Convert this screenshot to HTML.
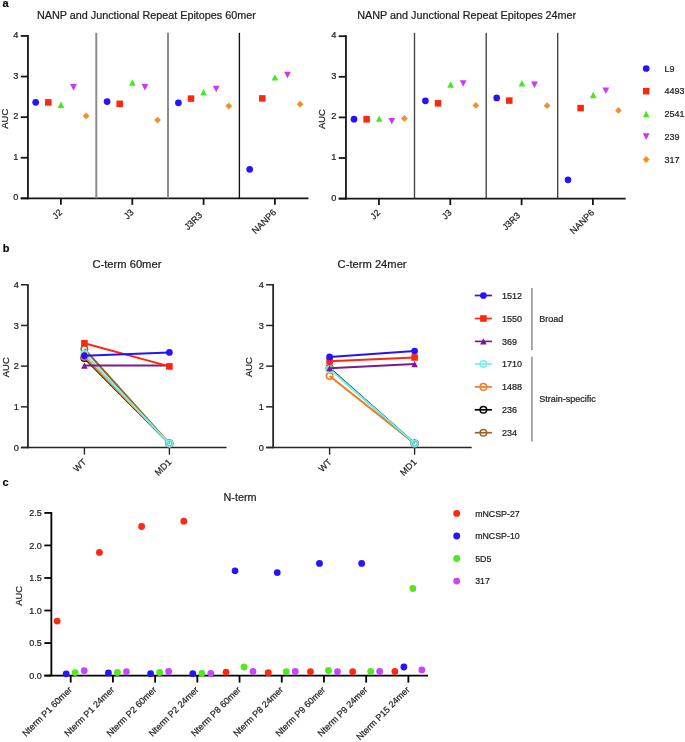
<!DOCTYPE html>
<html><head><meta charset="utf-8"><style>
html,body{margin:0;padding:0;background:#fff;}
svg{display:block;}
.t{filter:grayscale(1);}
.t text{stroke:#222;stroke-width:0.22px;}
text{font-family:"Liberation Sans", sans-serif;}
</style></head><body>
<svg width="685" height="742" viewBox="0 0 685 742">
<rect width="685" height="742" fill="#fff"/>
<line x1="27.95" y1="35.05" x2="27.95" y2="199.25" stroke="#151515" stroke-width="1.8"/>
<line x1="20.75" y1="198.35" x2="27.95" y2="198.35" stroke="#151515" stroke-width="1.8"/>
<line x1="20.75" y1="157.75" x2="27.95" y2="157.75" stroke="#151515" stroke-width="1.8"/>
<line x1="20.75" y1="117.15" x2="27.95" y2="117.15" stroke="#151515" stroke-width="1.8"/>
<line x1="20.75" y1="76.55" x2="27.95" y2="76.55" stroke="#151515" stroke-width="1.8"/>
<line x1="20.75" y1="35.95" x2="27.95" y2="35.95" stroke="#151515" stroke-width="1.8"/>
<line x1="20.75" y1="198.35" x2="308.50" y2="198.35" stroke="#151515" stroke-width="1.8"/>
<line x1="60.90" y1="198.35" x2="60.90" y2="204.85" stroke="#151515" stroke-width="1.8"/>
<line x1="132.30" y1="198.35" x2="132.30" y2="204.85" stroke="#151515" stroke-width="1.8"/>
<line x1="203.60" y1="198.35" x2="203.60" y2="204.85" stroke="#151515" stroke-width="1.8"/>
<line x1="274.90" y1="198.35" x2="274.90" y2="204.85" stroke="#151515" stroke-width="1.8"/>
<line x1="96.30" y1="32.80" x2="96.30" y2="198.35" stroke="#8c8c8c" stroke-width="2.0"/>
<line x1="168.00" y1="32.80" x2="168.00" y2="198.35" stroke="#8c8c8c" stroke-width="2.0"/>
<line x1="239.40" y1="32.80" x2="239.40" y2="198.35" stroke="#111" stroke-width="1.35"/>
<circle cx="35.70" cy="102.30" r="3.35" fill="rgb(38,18,252)"/>
<rect x="45.05" y="99.15" width="6.5" height="6.5" fill="rgb(255,38,14)"/>
<polygon points="60.90,101.50 64.20,107.90 57.60,107.90" fill="rgb(72,232,30)"/>
<polygon points="73.50,90.70 76.90,84.10 70.10,84.10" fill="rgb(200,58,250)"/>
<polygon points="86.10,112.50 89.50,115.90 86.10,119.30 82.70,115.90" fill="rgb(240,145,38)"/>
<circle cx="107.10" cy="101.60" r="3.35" fill="rgb(38,18,252)"/>
<rect x="116.45" y="100.55" width="6.5" height="6.5" fill="rgb(255,38,14)"/>
<polygon points="132.30,79.30 135.60,85.70 129.00,85.70" fill="rgb(72,232,30)"/>
<polygon points="144.90,90.60 148.30,84.00 141.50,84.00" fill="rgb(200,58,250)"/>
<polygon points="157.50,116.70 160.90,120.10 157.50,123.50 154.10,120.10" fill="rgb(240,145,38)"/>
<circle cx="178.40" cy="102.80" r="3.35" fill="rgb(38,18,252)"/>
<rect x="187.75" y="95.35" width="6.5" height="6.5" fill="rgb(255,38,14)"/>
<polygon points="203.60,89.00 206.90,95.40 200.30,95.40" fill="rgb(72,232,30)"/>
<polygon points="216.20,92.30 219.60,85.70 212.80,85.70" fill="rgb(200,58,250)"/>
<polygon points="228.80,102.60 232.20,106.00 228.80,109.40 225.40,106.00" fill="rgb(240,145,38)"/>
<circle cx="249.70" cy="169.30" r="3.35" fill="rgb(38,18,252)"/>
<rect x="259.05" y="95.15" width="6.5" height="6.5" fill="rgb(255,38,14)"/>
<polygon points="274.90,74.20 278.20,80.60 271.60,80.60" fill="rgb(72,232,30)"/>
<polygon points="287.50,78.30 290.90,71.70 284.10,71.70" fill="rgb(200,58,250)"/>
<polygon points="300.10,100.80 303.50,104.20 300.10,107.60 296.70,104.20" fill="rgb(240,145,38)"/>
<line x1="345.95" y1="35.30" x2="345.95" y2="199.50" stroke="#151515" stroke-width="1.8"/>
<line x1="338.75" y1="198.60" x2="345.95" y2="198.60" stroke="#151515" stroke-width="1.8"/>
<line x1="338.75" y1="158.00" x2="345.95" y2="158.00" stroke="#151515" stroke-width="1.8"/>
<line x1="338.75" y1="117.40" x2="345.95" y2="117.40" stroke="#151515" stroke-width="1.8"/>
<line x1="338.75" y1="76.80" x2="345.95" y2="76.80" stroke="#151515" stroke-width="1.8"/>
<line x1="338.75" y1="36.20" x2="345.95" y2="36.20" stroke="#151515" stroke-width="1.8"/>
<line x1="338.75" y1="198.60" x2="625.70" y2="198.60" stroke="#151515" stroke-width="1.8"/>
<line x1="378.90" y1="198.60" x2="378.90" y2="205.10" stroke="#151515" stroke-width="1.8"/>
<line x1="450.30" y1="198.60" x2="450.30" y2="205.10" stroke="#151515" stroke-width="1.8"/>
<line x1="521.60" y1="198.60" x2="521.60" y2="205.10" stroke="#151515" stroke-width="1.8"/>
<line x1="592.90" y1="198.60" x2="592.90" y2="205.10" stroke="#151515" stroke-width="1.8"/>
<line x1="414.50" y1="32.80" x2="414.50" y2="198.60" stroke="#404040" stroke-width="1.35"/>
<line x1="486.20" y1="32.80" x2="486.20" y2="198.60" stroke="#404040" stroke-width="1.35"/>
<line x1="557.70" y1="32.80" x2="557.70" y2="198.60" stroke="#404040" stroke-width="1.35"/>
<circle cx="354.00" cy="119.20" r="3.35" fill="rgb(38,18,252)"/>
<rect x="363.35" y="116.05" width="6.5" height="6.5" fill="rgb(255,38,14)"/>
<polygon points="379.20,115.40 382.50,121.80 375.90,121.80" fill="rgb(72,232,30)"/>
<polygon points="391.80,124.60 395.20,118.00 388.40,118.00" fill="rgb(200,58,250)"/>
<polygon points="404.40,115.10 407.80,118.50 404.40,121.90 401.00,118.50" fill="rgb(240,145,38)"/>
<circle cx="425.40" cy="100.80" r="3.35" fill="rgb(38,18,252)"/>
<rect x="434.75" y="100.05" width="6.5" height="6.5" fill="rgb(255,38,14)"/>
<polygon points="450.60,81.30 453.90,87.70 447.30,87.70" fill="rgb(72,232,30)"/>
<polygon points="463.20,86.80 466.60,80.20 459.80,80.20" fill="rgb(200,58,250)"/>
<polygon points="475.80,102.00 479.20,105.40 475.80,108.80 472.40,105.40" fill="rgb(240,145,38)"/>
<circle cx="496.70" cy="97.90" r="3.35" fill="rgb(38,18,252)"/>
<rect x="506.05" y="97.35" width="6.5" height="6.5" fill="rgb(255,38,14)"/>
<polygon points="521.90,80.00 525.20,86.40 518.60,86.40" fill="rgb(72,232,30)"/>
<polygon points="534.50,88.00 537.90,81.40 531.10,81.40" fill="rgb(200,58,250)"/>
<polygon points="547.10,102.30 550.50,105.70 547.10,109.10 543.70,105.70" fill="rgb(240,145,38)"/>
<circle cx="568.00" cy="179.80" r="3.35" fill="rgb(38,18,252)"/>
<rect x="577.35" y="104.85" width="6.5" height="6.5" fill="rgb(255,38,14)"/>
<polygon points="593.20,91.80 596.50,98.20 589.90,98.20" fill="rgb(72,232,30)"/>
<polygon points="605.80,94.00 609.20,87.40 602.40,87.40" fill="rgb(200,58,250)"/>
<polygon points="618.40,107.00 621.80,110.40 618.40,113.80 615.00,110.40" fill="rgb(240,145,38)"/>
<circle cx="646.20" cy="68.50" r="3.35" fill="rgb(38,18,252)"/>
<rect x="642.95" y="87.95" width="6.5" height="6.5" fill="rgb(255,38,14)"/>
<polygon points="646.20,110.80 649.50,117.20 642.90,117.20" fill="rgb(72,232,30)"/>
<polygon points="646.20,139.90 649.60,133.30 642.80,133.30" fill="rgb(200,58,250)"/>
<polygon points="646.20,156.10 649.60,159.50 646.20,162.90 642.80,159.50" fill="rgb(240,145,38)"/>
<line x1="27.95" y1="283.98" x2="27.95" y2="448.20" stroke="#262626" stroke-width="1.8"/>
<line x1="20.95" y1="447.50" x2="27.95" y2="447.50" stroke="#262626" stroke-width="1.5"/>
<line x1="20.95" y1="406.82" x2="27.95" y2="406.82" stroke="#262626" stroke-width="1.5"/>
<line x1="20.95" y1="366.14" x2="27.95" y2="366.14" stroke="#262626" stroke-width="1.5"/>
<line x1="20.95" y1="325.46" x2="27.95" y2="325.46" stroke="#262626" stroke-width="1.5"/>
<line x1="20.95" y1="284.78" x2="27.95" y2="284.78" stroke="#262626" stroke-width="1.5"/>
<line x1="20.95" y1="447.50" x2="226.50" y2="447.50" stroke="#262626" stroke-width="1.3"/>
<line x1="84.40" y1="447.50" x2="84.40" y2="454.70" stroke="#262626" stroke-width="1.4"/>
<line x1="169.40" y1="447.50" x2="169.40" y2="454.70" stroke="#262626" stroke-width="1.4"/>
<line x1="84.40" y1="349.00" x2="169.40" y2="443.40" stroke="rgb(152,100,38)" stroke-width="2.0"/>
<circle cx="84.40" cy="349.00" r="3.2" fill="none" stroke="rgb(152,100,38)" stroke-width="1.6"/>
<circle cx="169.40" cy="443.40" r="3.2" fill="none" stroke="rgb(152,100,38)" stroke-width="1.6"/>
<line x1="84.40" y1="358.00" x2="169.40" y2="443.60" stroke="#000" stroke-width="2.0"/>
<circle cx="84.40" cy="358.00" r="3.2" fill="none" stroke="#000" stroke-width="1.6"/>
<circle cx="169.40" cy="443.60" r="3.2" fill="none" stroke="#000" stroke-width="1.6"/>
<line x1="84.40" y1="356.80" x2="169.40" y2="443.60" stroke="rgb(242,124,34)" stroke-width="2.0"/>
<circle cx="84.40" cy="356.80" r="3.2" fill="none" stroke="rgb(242,124,34)" stroke-width="1.6"/>
<circle cx="169.40" cy="443.60" r="3.2" fill="none" stroke="rgb(242,124,34)" stroke-width="1.6"/>
<line x1="84.40" y1="353.80" x2="169.40" y2="443.60" stroke="rgb(112,240,240)" stroke-width="2.0"/>
<circle cx="84.40" cy="353.80" r="3.2" fill="none" stroke="rgb(112,240,240)" stroke-width="1.6"/>
<circle cx="169.40" cy="443.60" r="3.2" fill="none" stroke="rgb(112,240,240)" stroke-width="1.6"/>
<line x1="84.40" y1="365.60" x2="169.40" y2="365.60" stroke="rgb(125,25,145)" stroke-width="2.0"/>
<polygon points="84.40,362.50 87.70,368.70 81.10,368.70" fill="rgb(125,25,145)"/>
<polygon points="169.40,362.50 172.70,368.70 166.10,368.70" fill="rgb(125,25,145)"/>
<line x1="84.40" y1="343.20" x2="169.40" y2="366.40" stroke="rgb(255,38,14)" stroke-width="2.0"/>
<rect x="81.10" y="339.90" width="6.6" height="6.6" fill="rgb(255,38,14)"/>
<rect x="166.10" y="363.10" width="6.6" height="6.6" fill="rgb(255,38,14)"/>
<line x1="84.40" y1="355.80" x2="169.40" y2="352.40" stroke="rgb(38,18,252)" stroke-width="2.0"/>
<circle cx="84.40" cy="355.80" r="3.35" fill="rgb(38,18,252)"/>
<circle cx="169.40" cy="352.40" r="3.35" fill="rgb(38,18,252)"/>
<line x1="273.15" y1="283.98" x2="273.15" y2="448.20" stroke="#262626" stroke-width="1.8"/>
<line x1="266.15" y1="447.50" x2="273.15" y2="447.50" stroke="#262626" stroke-width="1.5"/>
<line x1="266.15" y1="406.82" x2="273.15" y2="406.82" stroke="#262626" stroke-width="1.5"/>
<line x1="266.15" y1="366.14" x2="273.15" y2="366.14" stroke="#262626" stroke-width="1.5"/>
<line x1="266.15" y1="325.46" x2="273.15" y2="325.46" stroke="#262626" stroke-width="1.5"/>
<line x1="266.15" y1="284.78" x2="273.15" y2="284.78" stroke="#262626" stroke-width="1.5"/>
<line x1="266.15" y1="447.50" x2="471.70" y2="447.50" stroke="#262626" stroke-width="1.3"/>
<line x1="329.60" y1="447.50" x2="329.60" y2="454.70" stroke="#262626" stroke-width="1.4"/>
<line x1="414.60" y1="447.50" x2="414.60" y2="454.70" stroke="#262626" stroke-width="1.4"/>
<line x1="329.60" y1="376.00" x2="414.60" y2="443.40" stroke="rgb(242,124,34)" stroke-width="2.0"/>
<circle cx="329.60" cy="376.00" r="3.2" fill="none" stroke="rgb(242,124,34)" stroke-width="1.6"/>
<circle cx="414.60" cy="443.40" r="3.2" fill="none" stroke="rgb(242,124,34)" stroke-width="1.6"/>
<line x1="329.60" y1="368.20" x2="414.60" y2="443.60" stroke="#000" stroke-width="2.0"/>
<circle cx="329.60" cy="368.20" r="3.2" fill="none" stroke="#000" stroke-width="1.6"/>
<circle cx="414.60" cy="443.60" r="3.2" fill="none" stroke="#000" stroke-width="1.6"/>
<line x1="329.60" y1="369.00" x2="414.60" y2="443.60" stroke="rgb(112,240,240)" stroke-width="2.0"/>
<circle cx="329.60" cy="369.00" r="3.2" fill="none" stroke="rgb(112,240,240)" stroke-width="1.6"/>
<circle cx="414.60" cy="443.60" r="3.2" fill="none" stroke="rgb(112,240,240)" stroke-width="1.6"/>
<line x1="329.60" y1="368.20" x2="414.60" y2="364.10" stroke="rgb(125,25,145)" stroke-width="2.0"/>
<polygon points="329.60,365.10 332.90,371.30 326.30,371.30" fill="rgb(125,25,145)"/>
<polygon points="414.60,361.00 417.90,367.20 411.30,367.20" fill="rgb(125,25,145)"/>
<line x1="329.60" y1="361.30" x2="414.60" y2="357.50" stroke="rgb(255,38,14)" stroke-width="2.0"/>
<rect x="326.30" y="358.00" width="6.6" height="6.6" fill="rgb(255,38,14)"/>
<rect x="411.30" y="354.20" width="6.6" height="6.6" fill="rgb(255,38,14)"/>
<line x1="329.60" y1="356.90" x2="414.60" y2="351.00" stroke="rgb(38,18,252)" stroke-width="2.0"/>
<circle cx="329.60" cy="356.90" r="3.35" fill="rgb(38,18,252)"/>
<circle cx="414.60" cy="351.00" r="3.35" fill="rgb(38,18,252)"/>
<line x1="474.80" y1="295.50" x2="491.90" y2="295.50" stroke="rgb(38,18,252)" stroke-width="1.7"/>
<circle cx="483.40" cy="295.50" r="3.35" fill="rgb(38,18,252)"/>
<line x1="474.80" y1="318.50" x2="491.90" y2="318.50" stroke="rgb(255,38,14)" stroke-width="1.7"/>
<rect x="480.10" y="315.20" width="6.6" height="6.6" fill="rgb(255,38,14)"/>
<line x1="474.80" y1="341.40" x2="491.90" y2="341.40" stroke="rgb(125,25,145)" stroke-width="1.7"/>
<polygon points="483.40,338.30 486.70,344.50 480.10,344.50" fill="rgb(125,25,145)"/>
<line x1="474.80" y1="364.00" x2="491.90" y2="364.00" stroke="rgb(112,240,240)" stroke-width="1.7"/>
<circle cx="483.40" cy="364.00" r="3.3" fill="none" stroke="rgb(112,240,240)" stroke-width="1.5"/>
<line x1="474.80" y1="386.90" x2="491.90" y2="386.90" stroke="rgb(242,124,34)" stroke-width="1.7"/>
<circle cx="483.40" cy="386.90" r="3.3" fill="none" stroke="rgb(242,124,34)" stroke-width="1.5"/>
<line x1="474.80" y1="409.80" x2="491.90" y2="409.80" stroke="#000" stroke-width="1.7"/>
<circle cx="483.40" cy="409.80" r="3.3" fill="none" stroke="#000" stroke-width="1.5"/>
<line x1="474.80" y1="432.70" x2="491.90" y2="432.70" stroke="rgb(152,100,38)" stroke-width="1.7"/>
<circle cx="483.40" cy="432.70" r="3.3" fill="none" stroke="rgb(152,100,38)" stroke-width="1.5"/>
<line x1="531.90" y1="288.00" x2="531.90" y2="349.90" stroke="#8c8c8c" stroke-width="1.5"/>
<line x1="531.90" y1="356.80" x2="531.90" y2="441.60" stroke="#8c8c8c" stroke-width="1.5"/>
<line x1="51.35" y1="512.00" x2="51.35" y2="675.60" stroke="#000" stroke-width="1.8"/>
<line x1="44.35" y1="675.60" x2="51.35" y2="675.60" stroke="#000" stroke-width="1.8"/>
<line x1="44.35" y1="643.06" x2="51.35" y2="643.06" stroke="#000" stroke-width="1.8"/>
<line x1="44.35" y1="610.52" x2="51.35" y2="610.52" stroke="#000" stroke-width="1.8"/>
<line x1="44.35" y1="577.98" x2="51.35" y2="577.98" stroke="#000" stroke-width="1.8"/>
<line x1="44.35" y1="545.44" x2="51.35" y2="545.44" stroke="#000" stroke-width="1.8"/>
<line x1="44.35" y1="512.90" x2="51.35" y2="512.90" stroke="#000" stroke-width="1.8"/>
<line x1="44.35" y1="675.60" x2="428.00" y2="675.60" stroke="#000" stroke-width="1.8"/>
<line x1="70.70" y1="675.60" x2="70.70" y2="682.60" stroke="#000" stroke-width="1.8"/>
<line x1="112.91" y1="675.60" x2="112.91" y2="682.60" stroke="#000" stroke-width="1.8"/>
<line x1="155.12" y1="675.60" x2="155.12" y2="682.60" stroke="#000" stroke-width="1.8"/>
<line x1="197.33" y1="675.60" x2="197.33" y2="682.60" stroke="#000" stroke-width="1.8"/>
<line x1="239.54" y1="675.60" x2="239.54" y2="682.60" stroke="#000" stroke-width="1.8"/>
<line x1="281.75" y1="675.60" x2="281.75" y2="682.60" stroke="#000" stroke-width="1.8"/>
<line x1="323.96" y1="675.60" x2="323.96" y2="682.60" stroke="#000" stroke-width="1.8"/>
<line x1="366.17" y1="675.60" x2="366.17" y2="682.60" stroke="#000" stroke-width="1.8"/>
<line x1="408.38" y1="675.60" x2="408.38" y2="682.60" stroke="#000" stroke-width="1.8"/>
<circle cx="57.20" cy="621.10" r="3.4" fill="rgb(255,40,18)"/>
<circle cx="66.20" cy="673.80" r="3.4" fill="rgb(40,20,252)"/>
<circle cx="75.20" cy="672.60" r="3.4" fill="rgb(80,232,30)"/>
<circle cx="84.20" cy="670.70" r="3.4" fill="rgb(200,70,250)"/>
<circle cx="99.41" cy="552.40" r="3.4" fill="rgb(255,40,18)"/>
<circle cx="108.41" cy="672.90" r="3.4" fill="rgb(40,20,252)"/>
<circle cx="117.41" cy="672.50" r="3.4" fill="rgb(80,232,30)"/>
<circle cx="126.41" cy="671.70" r="3.4" fill="rgb(200,70,250)"/>
<circle cx="141.62" cy="526.50" r="3.4" fill="rgb(255,40,18)"/>
<circle cx="150.62" cy="673.70" r="3.4" fill="rgb(40,20,252)"/>
<circle cx="159.62" cy="672.50" r="3.4" fill="rgb(80,232,30)"/>
<circle cx="168.62" cy="671.50" r="3.4" fill="rgb(200,70,250)"/>
<circle cx="183.83" cy="521.20" r="3.4" fill="rgb(255,40,18)"/>
<circle cx="192.83" cy="673.70" r="3.4" fill="rgb(40,20,252)"/>
<circle cx="201.83" cy="673.30" r="3.4" fill="rgb(80,232,30)"/>
<circle cx="210.83" cy="673.30" r="3.4" fill="rgb(200,70,250)"/>
<circle cx="226.04" cy="672.20" r="3.4" fill="rgb(255,40,18)"/>
<circle cx="235.04" cy="570.80" r="3.4" fill="rgb(40,20,252)"/>
<circle cx="244.04" cy="667.00" r="3.4" fill="rgb(80,232,30)"/>
<circle cx="253.04" cy="671.40" r="3.4" fill="rgb(200,70,250)"/>
<circle cx="268.25" cy="672.70" r="3.4" fill="rgb(255,40,18)"/>
<circle cx="277.25" cy="572.60" r="3.4" fill="rgb(40,20,252)"/>
<circle cx="286.25" cy="671.70" r="3.4" fill="rgb(80,232,30)"/>
<circle cx="295.25" cy="671.40" r="3.4" fill="rgb(200,70,250)"/>
<circle cx="310.46" cy="671.70" r="3.4" fill="rgb(255,40,18)"/>
<circle cx="319.46" cy="563.40" r="3.4" fill="rgb(40,20,252)"/>
<circle cx="328.46" cy="670.50" r="3.4" fill="rgb(80,232,30)"/>
<circle cx="337.46" cy="671.70" r="3.4" fill="rgb(200,70,250)"/>
<circle cx="352.67" cy="671.70" r="3.4" fill="rgb(255,40,18)"/>
<circle cx="361.67" cy="563.40" r="3.4" fill="rgb(40,20,252)"/>
<circle cx="370.67" cy="671.50" r="3.4" fill="rgb(80,232,30)"/>
<circle cx="379.67" cy="671.50" r="3.4" fill="rgb(200,70,250)"/>
<circle cx="394.88" cy="671.50" r="3.4" fill="rgb(255,40,18)"/>
<circle cx="403.88" cy="667.00" r="3.4" fill="rgb(40,20,252)"/>
<circle cx="412.88" cy="588.50" r="3.4" fill="rgb(80,232,30)"/>
<circle cx="421.88" cy="669.90" r="3.4" fill="rgb(200,70,250)"/>
<circle cx="456.70" cy="513.40" r="3.45" fill="rgb(255,40,18)"/>
<circle cx="456.70" cy="536.00" r="3.45" fill="rgb(40,20,252)"/>
<circle cx="456.70" cy="558.50" r="3.45" fill="rgb(80,232,30)"/>
<circle cx="456.70" cy="581.10" r="3.45" fill="rgb(200,70,250)"/>
<g class="t">
<text x="2.60" y="6.90" font-size="11" text-anchor="start" font-weight="bold" fill="#000">a</text>
<text x="2.80" y="251.80" font-size="11" text-anchor="start" font-weight="bold" fill="#000">b</text>
<text x="2.40" y="486.20" font-size="11" text-anchor="start" font-weight="bold" fill="#000">c</text>
<text x="18.35" y="200.35" font-size="9.2" text-anchor="end" font-weight="normal" fill="#1a1a1a">0</text>
<text x="18.35" y="159.75" font-size="9.2" text-anchor="end" font-weight="normal" fill="#1a1a1a">1</text>
<text x="18.35" y="119.15" font-size="9.2" text-anchor="end" font-weight="normal" fill="#1a1a1a">2</text>
<text x="18.35" y="78.55" font-size="9.2" text-anchor="end" font-weight="normal" fill="#1a1a1a">3</text>
<text x="18.35" y="37.95" font-size="9.2" text-anchor="end" font-weight="normal" fill="#1a1a1a">4</text>
<text x="62.80" y="213.05" font-size="9" text-anchor="end" font-weight="normal" fill="#1a1a1a" transform="rotate(-45 62.80 213.05)">J2</text>
<text x="134.20" y="213.05" font-size="9" text-anchor="end" font-weight="normal" fill="#1a1a1a" transform="rotate(-45 134.20 213.05)">J3</text>
<text x="202.80" y="215.75" font-size="9" text-anchor="end" font-weight="normal" fill="#1a1a1a" transform="rotate(-45 202.80 215.75)">J3R3</text>
<text x="276.80" y="213.05" font-size="9" text-anchor="end" font-weight="normal" fill="#1a1a1a" transform="rotate(-45 276.80 213.05)">NANP6</text>
<text x="8.35" y="118.75" font-size="9.4" text-anchor="middle" font-weight="normal" fill="#1a1a1a" transform="rotate(-90 8.35 118.75)">AUC</text>
<text x="37.00" y="18.80" font-size="10.8" text-anchor="start" font-weight="normal" fill="#1a1a1a">NANP and Junctional Repeat Epitopes 60mer</text>
<text x="336.35" y="200.60" font-size="9.2" text-anchor="end" font-weight="normal" fill="#1a1a1a">0</text>
<text x="336.35" y="160.00" font-size="9.2" text-anchor="end" font-weight="normal" fill="#1a1a1a">1</text>
<text x="336.35" y="119.40" font-size="9.2" text-anchor="end" font-weight="normal" fill="#1a1a1a">2</text>
<text x="336.35" y="78.80" font-size="9.2" text-anchor="end" font-weight="normal" fill="#1a1a1a">3</text>
<text x="336.35" y="38.20" font-size="9.2" text-anchor="end" font-weight="normal" fill="#1a1a1a">4</text>
<text x="380.80" y="213.30" font-size="9" text-anchor="end" font-weight="normal" fill="#1a1a1a" transform="rotate(-45 380.80 213.30)">J2</text>
<text x="452.20" y="213.30" font-size="9" text-anchor="end" font-weight="normal" fill="#1a1a1a" transform="rotate(-45 452.20 213.30)">J3</text>
<text x="520.80" y="216.00" font-size="9" text-anchor="end" font-weight="normal" fill="#1a1a1a" transform="rotate(-45 520.80 216.00)">J3R3</text>
<text x="594.80" y="213.30" font-size="9" text-anchor="end" font-weight="normal" fill="#1a1a1a" transform="rotate(-45 594.80 213.30)">NANP6</text>
<text x="324.65" y="119.05" font-size="9.4" text-anchor="middle" font-weight="normal" fill="#1a1a1a" transform="rotate(-90 324.65 119.05)">AUC</text>
<text x="357.30" y="18.80" font-size="10.8" text-anchor="start" font-weight="normal" fill="#1a1a1a">NANP and Junctional Repeat Epitopes 24mer</text>
<text x="664.60" y="71.70" font-size="9" text-anchor="start" font-weight="normal" fill="#1a1a1a">L9</text>
<text x="664.60" y="94.40" font-size="9" text-anchor="start" font-weight="normal" fill="#1a1a1a">4493</text>
<text x="664.60" y="117.20" font-size="9" text-anchor="start" font-weight="normal" fill="#1a1a1a">2541</text>
<text x="664.60" y="139.80" font-size="9" text-anchor="start" font-weight="normal" fill="#1a1a1a">239</text>
<text x="664.60" y="162.70" font-size="9" text-anchor="start" font-weight="normal" fill="#1a1a1a">317</text>
<text x="18.75" y="450.70" font-size="9.2" text-anchor="end" font-weight="normal" fill="#1a1a1a">0</text>
<text x="18.75" y="410.02" font-size="9.2" text-anchor="end" font-weight="normal" fill="#1a1a1a">1</text>
<text x="18.75" y="369.34" font-size="9.2" text-anchor="end" font-weight="normal" fill="#1a1a1a">2</text>
<text x="18.75" y="328.66" font-size="9.2" text-anchor="end" font-weight="normal" fill="#1a1a1a">3</text>
<text x="18.75" y="287.98" font-size="9.2" text-anchor="end" font-weight="normal" fill="#1a1a1a">4</text>
<text x="87.00" y="462.70" font-size="9" text-anchor="end" font-weight="normal" fill="#1a1a1a" transform="rotate(-45 87.00 462.70)">WT</text>
<text x="172.00" y="462.70" font-size="9" text-anchor="end" font-weight="normal" fill="#1a1a1a" transform="rotate(-45 172.00 462.70)">MD1</text>
<text x="8.65" y="367.25" font-size="9.4" text-anchor="middle" font-weight="normal" fill="#1a1a1a" transform="rotate(-90 8.65 367.25)">AUC</text>
<text x="126.90" y="267.80" font-size="11.2" text-anchor="middle" font-weight="normal" fill="#1a1a1a">C-term 60mer</text>
<text x="263.95" y="450.70" font-size="9.2" text-anchor="end" font-weight="normal" fill="#1a1a1a">0</text>
<text x="263.95" y="410.02" font-size="9.2" text-anchor="end" font-weight="normal" fill="#1a1a1a">1</text>
<text x="263.95" y="369.34" font-size="9.2" text-anchor="end" font-weight="normal" fill="#1a1a1a">2</text>
<text x="263.95" y="328.66" font-size="9.2" text-anchor="end" font-weight="normal" fill="#1a1a1a">3</text>
<text x="263.95" y="287.98" font-size="9.2" text-anchor="end" font-weight="normal" fill="#1a1a1a">4</text>
<text x="332.20" y="462.70" font-size="9" text-anchor="end" font-weight="normal" fill="#1a1a1a" transform="rotate(-45 332.20 462.70)">WT</text>
<text x="417.20" y="462.70" font-size="9" text-anchor="end" font-weight="normal" fill="#1a1a1a" transform="rotate(-45 417.20 462.70)">MD1</text>
<text x="252.45" y="367.20" font-size="9.4" text-anchor="middle" font-weight="normal" fill="#1a1a1a" transform="rotate(-90 252.45 367.20)">AUC</text>
<text x="372.10" y="267.80" font-size="11.2" text-anchor="middle" font-weight="normal" fill="#1a1a1a">C-term 24mer</text>
<text x="502.00" y="298.70" font-size="9" text-anchor="start" font-weight="normal" fill="#1a1a1a">1512</text>
<text x="502.00" y="321.70" font-size="9" text-anchor="start" font-weight="normal" fill="#1a1a1a">1550</text>
<text x="502.00" y="344.60" font-size="9" text-anchor="start" font-weight="normal" fill="#1a1a1a">369</text>
<text x="502.00" y="367.20" font-size="9" text-anchor="start" font-weight="normal" fill="#1a1a1a">1710</text>
<text x="502.00" y="390.10" font-size="9" text-anchor="start" font-weight="normal" fill="#1a1a1a">1488</text>
<text x="502.00" y="413.00" font-size="9" text-anchor="start" font-weight="normal" fill="#1a1a1a">236</text>
<text x="502.00" y="435.90" font-size="9" text-anchor="start" font-weight="normal" fill="#1a1a1a">234</text>
<text x="539.20" y="321.70" font-size="9" text-anchor="start" font-weight="normal" fill="#1a1a1a">Broad</text>
<text x="539.20" y="401.90" font-size="9" text-anchor="start" font-weight="normal" fill="#1a1a1a">Strain-specific</text>
<text x="41.75" y="678.80" font-size="9" text-anchor="end" font-weight="normal" fill="#1a1a1a">0.0</text>
<text x="41.75" y="646.26" font-size="9" text-anchor="end" font-weight="normal" fill="#1a1a1a">0.5</text>
<text x="41.75" y="613.72" font-size="9" text-anchor="end" font-weight="normal" fill="#1a1a1a">1.0</text>
<text x="41.75" y="581.18" font-size="9" text-anchor="end" font-weight="normal" fill="#1a1a1a">1.5</text>
<text x="41.75" y="548.64" font-size="9" text-anchor="end" font-weight="normal" fill="#1a1a1a">2.0</text>
<text x="41.75" y="516.10" font-size="9" text-anchor="end" font-weight="normal" fill="#1a1a1a">2.5</text>
<text x="72.60" y="690.30" font-size="9" text-anchor="end" font-weight="normal" fill="#1a1a1a" transform="rotate(-45 72.60 690.30)">Nterm P1 60mer</text>
<text x="114.81" y="690.30" font-size="9" text-anchor="end" font-weight="normal" fill="#1a1a1a" transform="rotate(-45 114.81 690.30)">Nterm P1 24mer</text>
<text x="157.02" y="690.30" font-size="9" text-anchor="end" font-weight="normal" fill="#1a1a1a" transform="rotate(-45 157.02 690.30)">Nterm P2 60mer</text>
<text x="199.23" y="690.30" font-size="9" text-anchor="end" font-weight="normal" fill="#1a1a1a" transform="rotate(-45 199.23 690.30)">Nterm P2 24mer</text>
<text x="241.44" y="690.30" font-size="9" text-anchor="end" font-weight="normal" fill="#1a1a1a" transform="rotate(-45 241.44 690.30)">Nterm P8 60mer</text>
<text x="283.65" y="690.30" font-size="9" text-anchor="end" font-weight="normal" fill="#1a1a1a" transform="rotate(-45 283.65 690.30)">Nterm P8 24mer</text>
<text x="325.86" y="690.30" font-size="9" text-anchor="end" font-weight="normal" fill="#1a1a1a" transform="rotate(-45 325.86 690.30)">Nterm P9 60mer</text>
<text x="368.07" y="690.30" font-size="9" text-anchor="end" font-weight="normal" fill="#1a1a1a" transform="rotate(-45 368.07 690.30)">Nterm P9 24mer</text>
<text x="410.28" y="690.30" font-size="9" text-anchor="end" font-weight="normal" fill="#1a1a1a" transform="rotate(-45 410.28 690.30)">Nterm P15 24mer</text>
<text x="22.45" y="595.90" font-size="9.4" text-anchor="middle" font-weight="normal" fill="#1a1a1a" transform="rotate(-90 22.45 595.90)">AUC</text>
<text x="240.00" y="500.70" font-size="10.8" text-anchor="middle" font-weight="normal" fill="#1a1a1a">N-term</text>
<text x="475.20" y="516.60" font-size="8.8" text-anchor="start" font-weight="normal" fill="#1a1a1a">mNCSP-27</text>
<text x="475.20" y="539.20" font-size="8.8" text-anchor="start" font-weight="normal" fill="#1a1a1a">mNCSP-10</text>
<text x="475.20" y="561.70" font-size="8.8" text-anchor="start" font-weight="normal" fill="#1a1a1a">5D5</text>
<text x="475.20" y="584.30" font-size="8.8" text-anchor="start" font-weight="normal" fill="#1a1a1a">317</text>
</g>
</svg>
</body></html>
